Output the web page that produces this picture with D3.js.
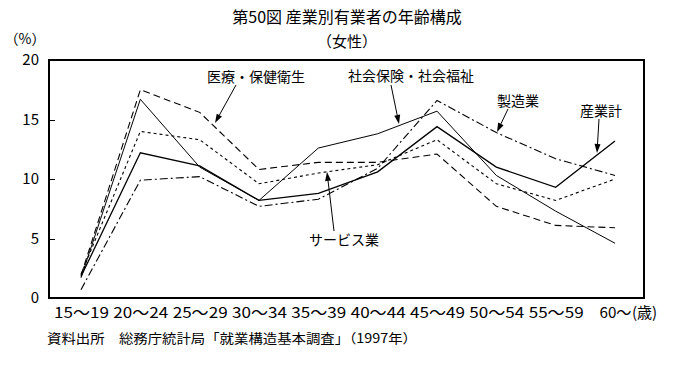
<!DOCTYPE html>
<html><head><meta charset="utf-8">
<script src="https://cdn.jsdelivr.net/npm/d3@7/dist/d3.min.js"></script>
<style>
html,body{margin:0;padding:0;background:#fff;}
text{font-family:"Noto Sans CJK JP","Noto Sans",sans-serif;fill:#000;}
</style></head>
<body>
<svg id="chart" width="681" height="367"></svg>
<script>
const categories = ["15～19","20～24","25～29","30～34","35～39","40～44","45～49","50～54","55～59","60～"];
const total    = [1.8, 12.2, 11.1, 8.2, 8.8, 10.6, 14.4, 11.0, 9.3, 13.2];   // 産業計
const welfare  = [1.7, 16.7, 11.0, 8.2, 12.6, 13.8, 15.7, 10.3, 7.3, 4.6];   // 社会保険・社会福祉
const medical  = [1.9, 17.5, 15.6, 10.8, 11.4, 11.4, 12.1, 7.7, 6.1, 5.9];   // 医療・保健衛生
const service  = [2.0, 14.0, 13.3, 9.6, 10.5, 11.2, 13.3, 9.6, 8.2, 10.0];   // サービス業
const manufact = [0.7, 9.9, 10.2, 7.7, 8.3, 10.9, 16.6, 13.9, 11.7, 10.3];   // 製造業
const yTicks = [0, 5, 10, 15, 20];

const series = [
  {name:"産業計", values: total, dash:null, width:1.3},
  {name:"社会保険・社会福祉", values: welfare, dash:null, width:1},
  {name:"医療・保健衛生", values: medical, dash:"7,4", width:1.1},
  {name:"サービス業", values: service, dash:"3,3", width:1.1},
  {name:"製造業", values: manufact, dash:"8,3,2,3", width:1.1}
];

const svg = d3.select("#chart");
const L = 49, R = 644, T = 60, B = 298;
const x = d3.scalePoint().domain(categories).range([81, 615]);
const y = d3.scaleLinear().domain([0, 20]).range([B, T]);

// titles
svg.append("text").attr("x", 347).attr("y", 23).attr("text-anchor","middle")
  .style("font-size","16px").text("第50図 産業別有業者の年齢構成");
svg.append("text").attr("x", 347).attr("y", 47).attr("text-anchor","middle")
  .style("font-size","15px").text("（女性）");
svg.append("text").attr("x", 25).attr("y", 44).attr("text-anchor","middle")
  .style("font-size","14px").text("（%）");

// frame
svg.append("rect").attr("x", L).attr("y", T).attr("width", R-L).attr("height", B-T)
  .attr("fill","none").attr("stroke","#000").attr("stroke-width",1.2).attr("shape-rendering","crispEdges");

// y axis
const yAxis = d3.axisLeft(y).tickValues(yTicks).tickSize(-6).tickPadding(10).tickFormat(d3.format("d"));
const ya = svg.append("g").attr("transform",`translate(${L},0)`).call(yAxis);
ya.select(".domain").remove();
ya.selectAll(".tick line").attr("stroke","#000").attr("shape-rendering","crispEdges")
  .filter(d => d === 0 || d === 20).remove();
ya.selectAll(".tick text").style("font-size","15px").attr("font-family",null);

// x axis
const xAxis = d3.axisBottom(x).tickSize(0).tickPadding(9);
const xa = svg.append("g").attr("transform",`translate(0,${B})`).call(xAxis);
xa.select(".domain").remove();
xa.selectAll(".tick text").style("font-size","15px").attr("font-family",null)
  .attr("textLength", d => d === "60～" ? 32 : 55).attr("lengthAdjust","spacingAndGlyphs");
svg.append("text").attr("x", x("60～") + 17).attr("y", B + 20).style("font-size","15px").text("(歳)");

// lines
const line = d3.line().x((d,i) => x(categories[i])).y(d => y(d));
series.forEach(s => {
  svg.append("path").datum(s.values).attr("d", line)
    .attr("fill","none").attr("stroke","#000").attr("stroke-width", s.width)
    .attr("stroke-dasharray", s.dash);
});

// annotations
const notes = [
  {text:"医療・保健衛生", tx:207, ty:82, x1:236, y1:85, x2:215, y2:123},
  {text:"社会保険・社会福祉", tx:348, ty:81, x1:391, y1:85, x2:399, y2:124},
  {text:"製造業", tx:497, ty:106, x1:508, y1:109, x2:497, y2:132},
  {text:"産業計", tx:580, ty:116, x1:599, y1:119, x2:597, y2:153},
  {text:"サービス業", tx:309, ty:245, x1:334, y1:231, x2:327, y2:172}
];
notes.forEach(n => {
  svg.append("text").attr("x", n.tx).attr("y", n.ty).style("font-size","14px").text(n.text);
  const ang = Math.atan2(n.y2 - n.y1, n.x2 - n.x1);
  const hl = 9, hw = 3;
  const bx = n.x2 - hl*Math.cos(ang), by = n.y2 - hl*Math.sin(ang);
  svg.append("line").attr("x1", n.x1).attr("y1", n.y1).attr("x2", bx).attr("y2", by)
    .attr("stroke","#000").attr("stroke-width",1);
  const px = -Math.sin(ang), py = Math.cos(ang);
  svg.append("path")
    .attr("d", `M${n.x2},${n.y2} L${bx+hw*px},${by+hw*py} L${bx-hw*px},${by-hw*py} Z`)
    .attr("fill","#000");
});

// source
svg.append("text").attr("x", 47).attr("y", 343).style("font-size","13px")
  .attr("textLength", 370).attr("lengthAdjust","spacingAndGlyphs")
  .text("資料出所　総務庁統計局「就業構造基本調査」（1997年）");
</script>
</body></html>
